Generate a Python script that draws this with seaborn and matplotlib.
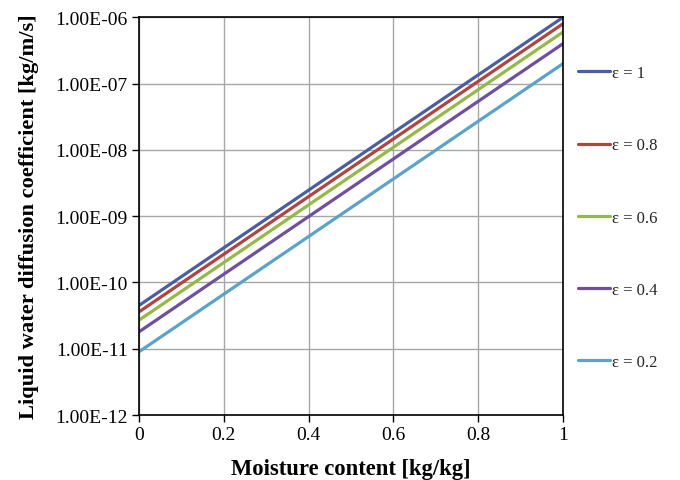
import numpy as np
import pandas as pd
import matplotlib
matplotlib.use("Agg")
import matplotlib.pyplot as plt
import seaborn as sns
from matplotlib.ticker import FixedLocator, FixedFormatter, NullLocator

# Moisture content endpoints [kg/kg]
moisture = [0.0, 1.0]

# Liquid water diffusion coefficient [kg/m/s] at each endpoint, per porosity
series_labels = ["ε = 1", "ε = 0.8", "ε = 0.6", "ε = 0.4", "ε = 0.2"]
d_eps_10 = [4.5e-11, 1.0e-6]
d_eps_08 = [3.6e-11, 8.0e-7]
d_eps_06 = [2.7e-11, 6.0e-7]
d_eps_04 = [1.8e-11, 4.0e-7]
d_eps_02 = [9.0e-12, 2.0e-7]

line_colors = ["#4A5EA6", "#B0443F", "#93BA45", "#6F50A0", "#5BA3C8"]

y_tick_values = [1e-12, 1e-11, 1e-10, 1e-9, 1e-8, 1e-7, 1e-6]
y_tick_labels = ["1.00E-12", "1.00E-11", "1.00E-10", "1.00E-09",
                 "1.00E-08", "1.00E-07", "1.00E-06"]
x_tick_values = [0, 0.2, 0.4, 0.6, 0.8, 1]
x_tick_labels = ["0", "0.2", "0.4", "0.6", "0.8", "1"]

frames = []
for label, values in zip(series_labels,
                         [d_eps_10, d_eps_08, d_eps_06, d_eps_04, d_eps_02]):
    frames.append(pd.DataFrame({"moisture": moisture, "D": values, "eps": label}))
df = pd.concat(frames, ignore_index=True)

sns.set_theme(style="white")
plt.rcParams["font.family"] = ["Liberation Serif", "DejaVu Serif"]

fig = plt.figure(figsize=(6.8, 4.81), dpi=100)
ax = fig.add_axes([0.2044, 0.135, 0.6236, 0.827])

sns.lineplot(data=df, x="moisture", y="D", hue="eps", hue_order=series_labels,
             palette=line_colors, linewidth=2.3, ax=ax, legend=True)

ax.set_yscale("log")
ax.set_xlim(0, 1)
ax.set_ylim(1e-12, 1e-6)

ax.yaxis.set_major_locator(FixedLocator(y_tick_values))
ax.yaxis.set_major_formatter(FixedFormatter(y_tick_labels))
ax.yaxis.set_minor_locator(NullLocator())
ax.xaxis.set_major_locator(FixedLocator(x_tick_values))
ax.xaxis.set_major_formatter(FixedFormatter(x_tick_labels))

ax.grid(True, which="major", color="#A6A6A6", linewidth=1.0)
ax.set_axisbelow(True)
for side in ["left", "right", "top", "bottom"]:
    ax.spines[side].set_visible(True)
    ax.spines[side].set_color("black")
    ax.spines[side].set_linewidth(1.2)

ax.tick_params(axis="both", which="major", direction="out", length=5,
               width=1.0, color="black", labelsize=14, labelcolor="black",
               left=True, bottom=True, pad=3)

ax.set_xlabel("Moisture content [kg/kg]", fontsize=16.3, fontweight="bold",
              labelpad=10.5, color="black")
ax.set_ylabel("Liquid water diffusion coefficient [kg/m/s]", fontsize=16.2,
              fontweight="bold", labelpad=12, color="black")

handles, labels = ax.get_legend_handles_labels()
ax.legend(handles, labels, loc="upper left", bbox_to_anchor=(1.02, 0.896),
          frameon=False, fontsize=12, handlelength=1.9, handletextpad=0.1,
          labelspacing=3.37, borderaxespad=0)

fig.savefig("out.png", dpi=100)
